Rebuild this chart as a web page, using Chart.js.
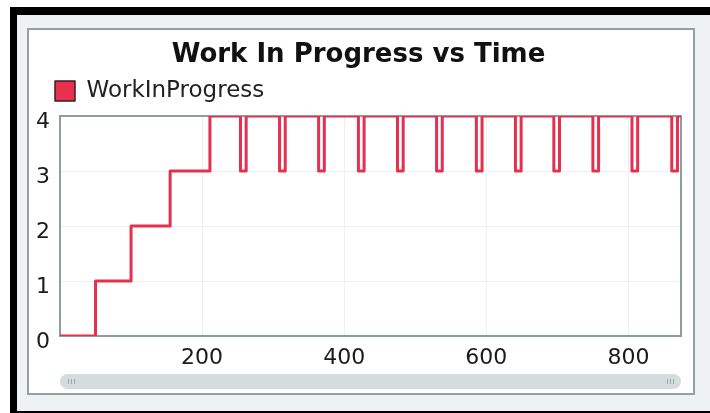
<!DOCTYPE html>
<html>
<head>
<meta charset="utf-8">
<title>Work In Progress vs Time</title>
<script src="https://cdn.jsdelivr.net/npm/chart.js@4.4.1/dist/chart.umd.min.js"></script>
<style>
    html, body { margin: 0; padding: 0; background: #ffffff; }
    body { width: 710px; height: 413px; position: relative; overflow: hidden; }
    .frame {
        position: absolute; left: 10px; top: 7px; width: 710px; height: 396px;
        background: #eef2f2;
        border-top: 8px solid #000; border-left: 7px solid #000; border-bottom: 5px solid #000;
    }
    .panel {
        position: absolute; left: 27px; top: 28px; width: 664px; height: 363px;
        background: #ffffff; border: 2px solid #93a1a1;
    }
    .scrollbar {
        position: absolute; left: 60px; top: 374px; width: 621px; height: 15px;
        background: #d5dcdc; border-radius: 8px;
    }
    .grip { position: absolute; top: 5px; width: 7px; height: 5px;
        background: repeating-linear-gradient(90deg, #9ca8a8 0 1px, transparent 1px 3px); }
    .grip.left { left: 8px; }
    .grip.right { right: 7px; }
    #chart { position: absolute; left: 0; top: 0; }
</style>
</head>
<body>
<div class="frame"></div>
<div class="panel"></div>
<div class="scrollbar"><div class="grip left"></div><div class="grip right"></div></div>
<canvas id="chart" width="710" height="413"></canvas>
<script>
// time at which WorkInProgress changes, and the new value from that time on
const times = [0, 50, 100, 155, 211,
    254, 262, 309, 317, 364, 372, 420, 428, 475, 483, 530, 538,
    586, 594, 641, 649, 695, 703, 750, 758, 805, 813, 861, 869, 874];
const wip = [0, 1, 2, 3, 4,
    3, 4, 3, 4, 3, 4, 3, 4, 3, 4, 3, 4,
    3, 4, 3, 4, 3, 4, 3, 4, 3, 4, 3, 4, 4];
const xTicks = [200, 400, 600, 800];
const yTicks = [0, 1, 2, 3, 4];

const lineColor = '#e5304f';
const frameColor = '#8f9d9d';
const gridColor = '#edf1f1';
const font = 'DejaVu Sans';

document.addEventListener('DOMContentLoaded', () => {
    const ctx = document.getElementById('chart').getContext('2d');

    new Chart(ctx, {
        type: 'line',
        data: {
            datasets: [{
                label: 'WorkInProgress',
                data: times.map((t, i) => ({ x: t, y: wip[i] })),
                xAxisID: 'x',
                yAxisID: 'y',
                stepped: 'before',
                borderColor: lineColor,
                backgroundColor: lineColor,
                borderWidth: 3,
                borderJoinStyle: 'round',
                pointRadius: 0,
                fill: false,
            }],
        },
        options: {
            responsive: false,
            animation: false,
            layout: { padding: { left: 36, right: 29, top: 28, bottom: 37 } },
            plugins: {
                title: {
                    display: true,
                    text: 'Work In Progress vs Time',
                    color: '#111111',
                    font: { family: font, size: 26, weight: 'bold' },
                    // negative bottom pulls the legend up under the title
                    padding: { top: 12, bottom: -10.7 },
                },
                legend: {
                    align: 'start',
                    labels: {
                        boxWidth: 20,
                        boxHeight: 20,
                        padding: 19,
                        color: '#222222',
                        font: { family: font, size: 23 },
                        generateLabels: (chart) =>
                            Chart.defaults.plugins.legend.labels.generateLabels(chart).map((item) => ({
                                ...item,
                                fillStyle: '#e8304f',
                                strokeStyle: '#3a1c22',
                                lineWidth: 1.5,
                            })),
                    },
                },
                tooltip: { enabled: false },
            },
            scales: {
                x: {
                    type: 'linear',
                    position: 'bottom',
                    min: 0,
                    max: 874,
                    afterBuildTicks: (scale) => { scale.ticks = xTicks.map((v) => ({ value: v })); },
                    afterFit: (scale) => { scale.height = 40; },
                    grid: { color: gridColor, drawTicks: false },
                    border: { color: frameColor, width: 2 },
                    ticks: { color: '#1a1a1a', padding: 9, maxRotation: 0, font: { family: font, size: 22 } },
                },
                xTop: {
                    type: 'linear',
                    axis: 'x',
                    position: 'top',
                    min: 0,
                    max: 874,
                    grid: { display: false, drawTicks: false },
                    ticks: { display: false },
                    border: { color: frameColor, width: 2 },
                    afterFit: (scale) => { scale.height = 3.5; },
                },
                y: {
                    type: 'linear',
                    position: 'left',
                    min: 0,
                    max: 4,
                    afterBuildTicks: (scale) => { scale.ticks = yTicks.map((v) => ({ value: v })); },
                    afterFit: (scale) => { scale.width = 24; },
                    grid: { color: gridColor, drawTicks: false },
                    border: { color: frameColor, width: 2 },
                    ticks: { color: '#1a1a1a', padding: 10, labelOffset: 6, font: { family: font, size: 22 } },
                },
                yRight: {
                    type: 'linear',
                    axis: 'y',
                    position: 'right',
                    min: 0,
                    max: 4,
                    grid: { display: false, drawTicks: false },
                    ticks: { display: false },
                    border: { color: frameColor, width: 2 },
                    afterFit: (scale) => { scale.width = 0; },
                },
            },
        },
    });
});
</script>
</body>
</html>
